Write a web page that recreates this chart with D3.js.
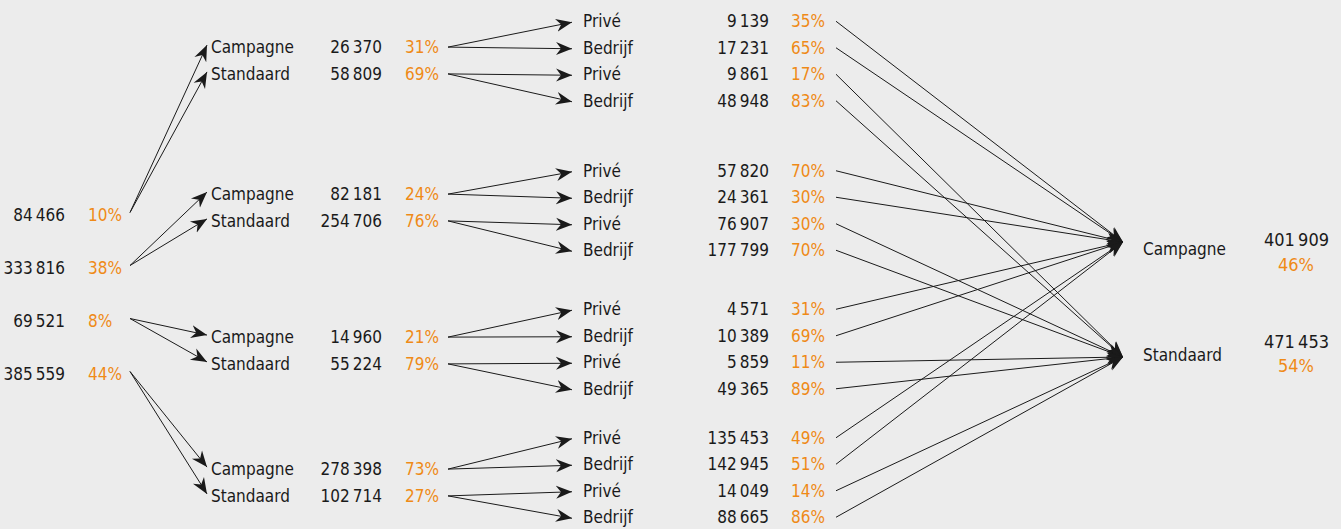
<!DOCTYPE html>
<html>
<head>
<meta charset="utf-8">
<script src="https://cdn.jsdelivr.net/npm/d3@7"></script>
<style>
  html, body { margin: 0; padding: 0; background: #ececec; }
  svg { display: block; }
  text { font-family: "DejaVu Sans Condensed", "DejaVu Sans", sans-serif; font-size: 17px; }
</style>
</head>
<body>
<div id="chart"></div>
<script>
// level 1: four starting groups
const level1Values = [84466, 333816, 69521, 385559];
const level1Pct = [10, 38, 8, 44];

// level 2: each group splits into Campagne / Standaard
const level2Labels = ["Campagne", "Standaard"];
const level2Values = [26370, 58809, 82181, 254706, 14960, 55224, 278398, 102714];
const level2Pct = [31, 69, 24, 76, 21, 79, 73, 27];

// level 3: each of those splits into Privé / Bedrijf
const level3Labels = ["Privé", "Bedrijf"];
const level3Values = [9139, 17231, 9861, 48948, 57820, 24361, 76907, 177799,
                      4571, 10389, 5859, 49365, 135453, 142945, 14049, 88665];
const level3Pct = [35, 65, 17, 83, 70, 30, 30, 70, 31, 69, 11, 89, 49, 51, 14, 86];

// final totals
const finalLabels = ["Campagne", "Standaard"];
const finalValues = [401909, 471453];
const finalPct = [46, 54];

const width = 1341, height = 529;
const orange = "#ef8a17";
const ink = "#1a1a1a";

const locale = d3.formatLocale({ decimal: ",", thousands: "\u2009", grouping: [3], currency: ["", "€"] });
const fmt = locale.format(",d");

// vertical layout
const y1 = d3.scaleLinear().domain([0, 3]).range([214.5, 373.5]);
const centre2 = [60.5, 207.5, 350.5, 482.5];   // centre of each pair of level-2 rows
const centre3 = [61, 210.5, 349, 477.5];       // centre of each block of four level-3 rows
const y2 = i => centre2[Math.floor(i / 2)] + ((i % 2) - 0.5) * 26.8;
const y3 = i => centre3[Math.floor(i / 4)] + ((i % 4) - 1.5) * 26.5;
const yF = d3.scaleOrdinal().domain(finalLabels).range([242, 357]);

// horizontal layout
const x = {
  v1: 65, p1: 88, a1s: 130, a1e: 207,
  lab2: 211, v2: 382, p2: 405, a2s: 448, a2e: 572,
  lab3: 583, v3: 769, p3: 791, a3s: 836, a3e: 1123,
  labF: 1143, vF: 1329, pF: 1296
};
// offsets of the final texts from their arrow tip
const offLab = [7, -2], offVal = [-2, -15], offPct = [23, 9];

const svg = d3.select("#chart").append("svg")
  .attr("width", width).attr("height", height);

svg.append("rect").attr("width", width).attr("height", height).attr("fill", "#ececec");

svg.append("defs").append("marker")
  .attr("id", "head")
  .attr("markerUnits", "userSpaceOnUse")
  .attr("viewBox", "-16 -8 18 16")
  .attr("markerWidth", 18).attr("markerHeight", 16)
  .attr("refX", 0).attr("refY", 0)
  .attr("orient", "auto")
  .append("path")
  .attr("d", "M0,0 L-16,-6.5 L-11,0 L-16,6.5 Z")
  .attr("fill", ink);

function arrow(x0, yA, x1, yB) {
  svg.append("line")
    .attr("x1", x0).attr("y1", yA).attr("x2", x1).attr("y2", yB)
    .attr("stroke", ink).attr("stroke-width", 1)
    .attr("marker-end", "url(#head)");
}

function label(txt, xx, yy, anchor, colour, size) {
  svg.append("text")
    .attr("x", xx).attr("y", yy).attr("dy", "0.36em")
    .attr("text-anchor", anchor)
    .attr("fill", colour)
    .style("font-size", size ? size + "px" : null)
    .text(txt);
}

// level 1
level1Values.forEach((v, i) => {
  label(fmt(v), x.v1, y1(i), "end", ink);
  label(level1Pct[i] + "%", x.p1, y1(i), "start", orange);
  arrow(x.a1s, y1(i) - 2, x.a1e, y2(i * 2) - 2);
  arrow(x.a1s, y1(i) - 2, x.a1e, y2(i * 2 + 1) - 2);
});

// level 2
level2Values.forEach((v, i) => {
  label(level2Labels[i % 2], x.lab2, y2(i), "start", ink);
  label(fmt(v), x.v2, y2(i), "end", ink);
  label(level2Pct[i] + "%", x.p2, y2(i), "start", orange);
  arrow(x.a2s, y2(i), x.a2e, y3(i * 2) + 1);
  arrow(x.a2s, y2(i), x.a2e, y3(i * 2 + 1) + 1);
});

// level 3
level3Values.forEach((v, i) => {
  label(level3Labels[i % 2], x.lab3, y3(i), "start", ink);
  label(fmt(v), x.v3, y3(i), "end", ink);
  label(level3Pct[i] + "%", x.p3, y3(i), "start", orange);
  // each row flows into the final total of its level-2 category
  const target = level2Labels[Math.floor(i / 2) % 2];
  arrow(x.a3s, y3(i), x.a3e, yF(target));
});

// final totals
finalLabels.forEach((l, i) => {
  const yy = yF(l);
  label(l, x.labF, yy + offLab[i], "start", ink);
  label(fmt(finalValues[i]), x.vF, yy + offVal[i], "end", ink, 18);
  label(finalPct[i] + "%", x.pF, yy + offPct[i], "middle", orange, 18);
});
</script>
</body>
</html>
